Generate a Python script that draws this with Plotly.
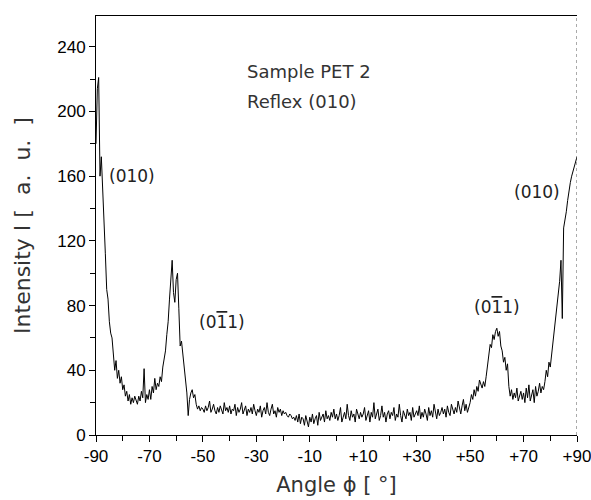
import plotly.graph_objects as go

# angle grid, 0.5 degree steps from -90 to +90
angle = [-90 + 0.5 * i for i in range(361)]

# intensity, 20 values per 10 degrees
intensity = (
    [180, 214, 221, 160, 172, 148, 130, 112, 90, 84, 70, 63, 60, 52, 40, 46, 35, 40, 32, 36]      # -90 .. -80.5
    + [28, 31, 24, 27, 21, 25, 19, 23, 20, 24, 22, 19, 24, 21, 27, 23, 41, 20, 25, 22]          # -80 .. -70.5
    + [28, 22, 30, 26, 35, 28, 32, 30, 36, 33, 42, 48, 52, 62, 70, 84, 95, 108, 88, 82]         # -70 .. -60.5
    + [96, 100, 78, 55, 58, 50, 40, 32, 26, 12, 22, 26, 28, 23, 25, 19, 16, 18, 15, 17]         # -60 .. -50.5
    + [16, 14, 18, 15, 17, 21, 14, 16, 19, 15, 13, 17, 14, 18, 16, 13, 20, 15, 17, 14]          # -50 .. -40.5
    + [18, 13, 16, 15, 19, 12, 17, 14, 16, 20, 13, 15, 18, 12, 16, 14, 17, 13, 19, 15]          # -40 .. -30.5
    + [12, 16, 14, 18, 11, 15, 17, 13, 20, 14, 12, 16, 19, 13, 15, 11, 17, 14, 16, 12]          # -30 .. -20.5
    + [15, 13, 14, 12, 11, 13, 12, 10, 11, 9, 12, 8, 13, 7, 11, 10, 6, 12, 9, 5]                # -20 .. -10.5
    + [11, 8, 13, 7, 10, 12, 6, 14, 9, 11, 13, 8, 15, 10, 12, 9, 14, 11, 16, 10]                # -10 .. -0.5
    + [13, 9, 12, 17, 8, 11, 14, 10, 19, 12, 9, 15, 11, 13, 8, 16, 12, 10, 14, 11]              # 0 .. 9.5
    + [13, 17, 9, 12, 15, 8, 14, 11, 20, 10, 13, 16, 9, 12, 18, 11, 14, 8, 13, 15]              # 10 .. 19.5
    + [10, 14, 12, 17, 9, 13, 11, 19, 12, 8, 15, 13, 10, 16, 12, 14, 9, 17, 11, 13]             # 20 .. 29.5
    + [15, 12, 18, 10, 14, 11, 16, 13, 9, 17, 12, 15, 11, 19, 13, 10, 16, 12, 14, 17]           # 30 .. 39.5
    + [13, 16, 11, 18, 14, 12, 19, 15, 13, 17, 14, 21, 16, 13, 18, 22, 15, 19, 14, 17]          # 40 .. 49.5
    + [20, 25, 22, 28, 24, 30, 27, 34, 31, 29, 33, 30, 36, 44, 48, 56, 54, 62, 59, 64]          # 50 .. 59.5
    + [66, 61, 64, 55, 52, 45, 48, 40, 44, 30, 24, 28, 22, 26, 23, 29, 21, 25, 27, 22]          # 60 .. 69.5
    + [26, 20, 29, 23, 31, 21, 25, 28, 20, 30, 24, 27, 32, 26, 30, 28, 33, 40, 36, 45]          # 70 .. 79.5
    + [42, 50, 55, 62, 72, 80, 90, 95, 108, 72, 128, 132, 138, 145, 152, 156, 160, 163, 167, 170]  # 80 .. 89.5
    + [172]                                                                                      # 90
)

x_tickvals = [-90, -70, -50, -30, -10, 10, 30, 50, 70, 90]
x_ticktext = ["-90", "-70", "-50", "-30", "-10", "+10", "+30", "+50", "+70", "+90"]
y_tickvals = [0, 40, 80, 120, 160, 200, 240]

# peak labels
bar1 = '<span style="text-decoration:overline">1</span>'
peak_labels = ["(010)", "(0" + bar1 + "1)", "(0" + bar1 + "1)", "(010)"]
peak_x = [-76.7, -42.7, 60.2, 74.9]
peak_y = [160, 70, 79, 150]

info_lines = ["Sample PET 2", "Reflex (010)"]
info_y = [225, 206]

font_main = "DejaVu Sans, sans-serif"
font_ticks = "Liberation Sans, Arial, sans-serif"
nb = "\u00a0"

fig = go.Figure()
fig.add_trace(go.Scatter(x=angle, y=intensity, mode="lines",
                         line=dict(color="black", width=1), showlegend=False))

for txt, px_, py_ in zip(peak_labels, peak_x, peak_y):
    fig.add_annotation(x=px_, y=py_, text=txt, showarrow=False,
                       font=dict(family=font_main, size=17, color="#222"))

for txt, py_ in zip(info_lines, info_y):
    fig.add_annotation(x=-34.4, y=py_, text=txt, showarrow=False, xanchor="left",
                       font=dict(family=font_main, size=18, color="#333"))

# right frame edge is faint and broken in the scan
fig.add_shape(type="line", xref="x", yref="paper", x0=90, x1=90, y0=0, y1=1,
              line=dict(color="#555", width=1, dash="dot"))

fig.update_xaxes(range=[-90, 90], tickvals=x_tickvals, ticktext=x_ticktext,
                 ticks="outside", ticklen=6, tickwidth=1, tickcolor="black",
                 minor=dict(tickvals=[-80, -60, -40, -20, 0, 20, 40, 60, 80],
                            ticks="outside", ticklen=5, tickcolor="black"),
                 showline=True, linecolor="black", linewidth=1, mirror=True,
                 showgrid=False, zeroline=False, automargin=False,
                 ticklabeloverflow="allow",
                 tickfont=dict(family=font_ticks, size=17, color="black"),
                 title=dict(text="Angle \u03d5 [ \u00b0]", standoff=11,
                            font=dict(family=font_main, size=21, color="#333")))
fig.update_yaxes(range=[0, 259], tickvals=y_tickvals,
                 ticks="outside", ticklen=6, tickwidth=1, tickcolor="black",
                 minor=dict(tickvals=[20, 60, 100, 140, 180, 220],
                            ticks="outside", ticklen=5, tickcolor="black"),
                 showline=True, linecolor="black", linewidth=1, mirror=False,
                 showgrid=False, zeroline=False, automargin=False,
                 tickfont=dict(family=font_ticks, size=17, color="black"),
                 title=dict(text="Intensity I [" + nb + " a." + nb + " u." + nb + " ]" + nb * 4,
                            standoff=20,
                            font=dict(family=font_main, size=22, color="#333")))

fig.update_layout(width=591, height=500, plot_bgcolor="white", paper_bgcolor="white",
                  margin=dict(l=96, r=14, t=16, b=65))

# drop the default page margin so the 591x500 figure fills the window exactly
fig.write_html("out.html", config={"displayModeBar": False},
               post_script="document.body.style.margin='0';")
